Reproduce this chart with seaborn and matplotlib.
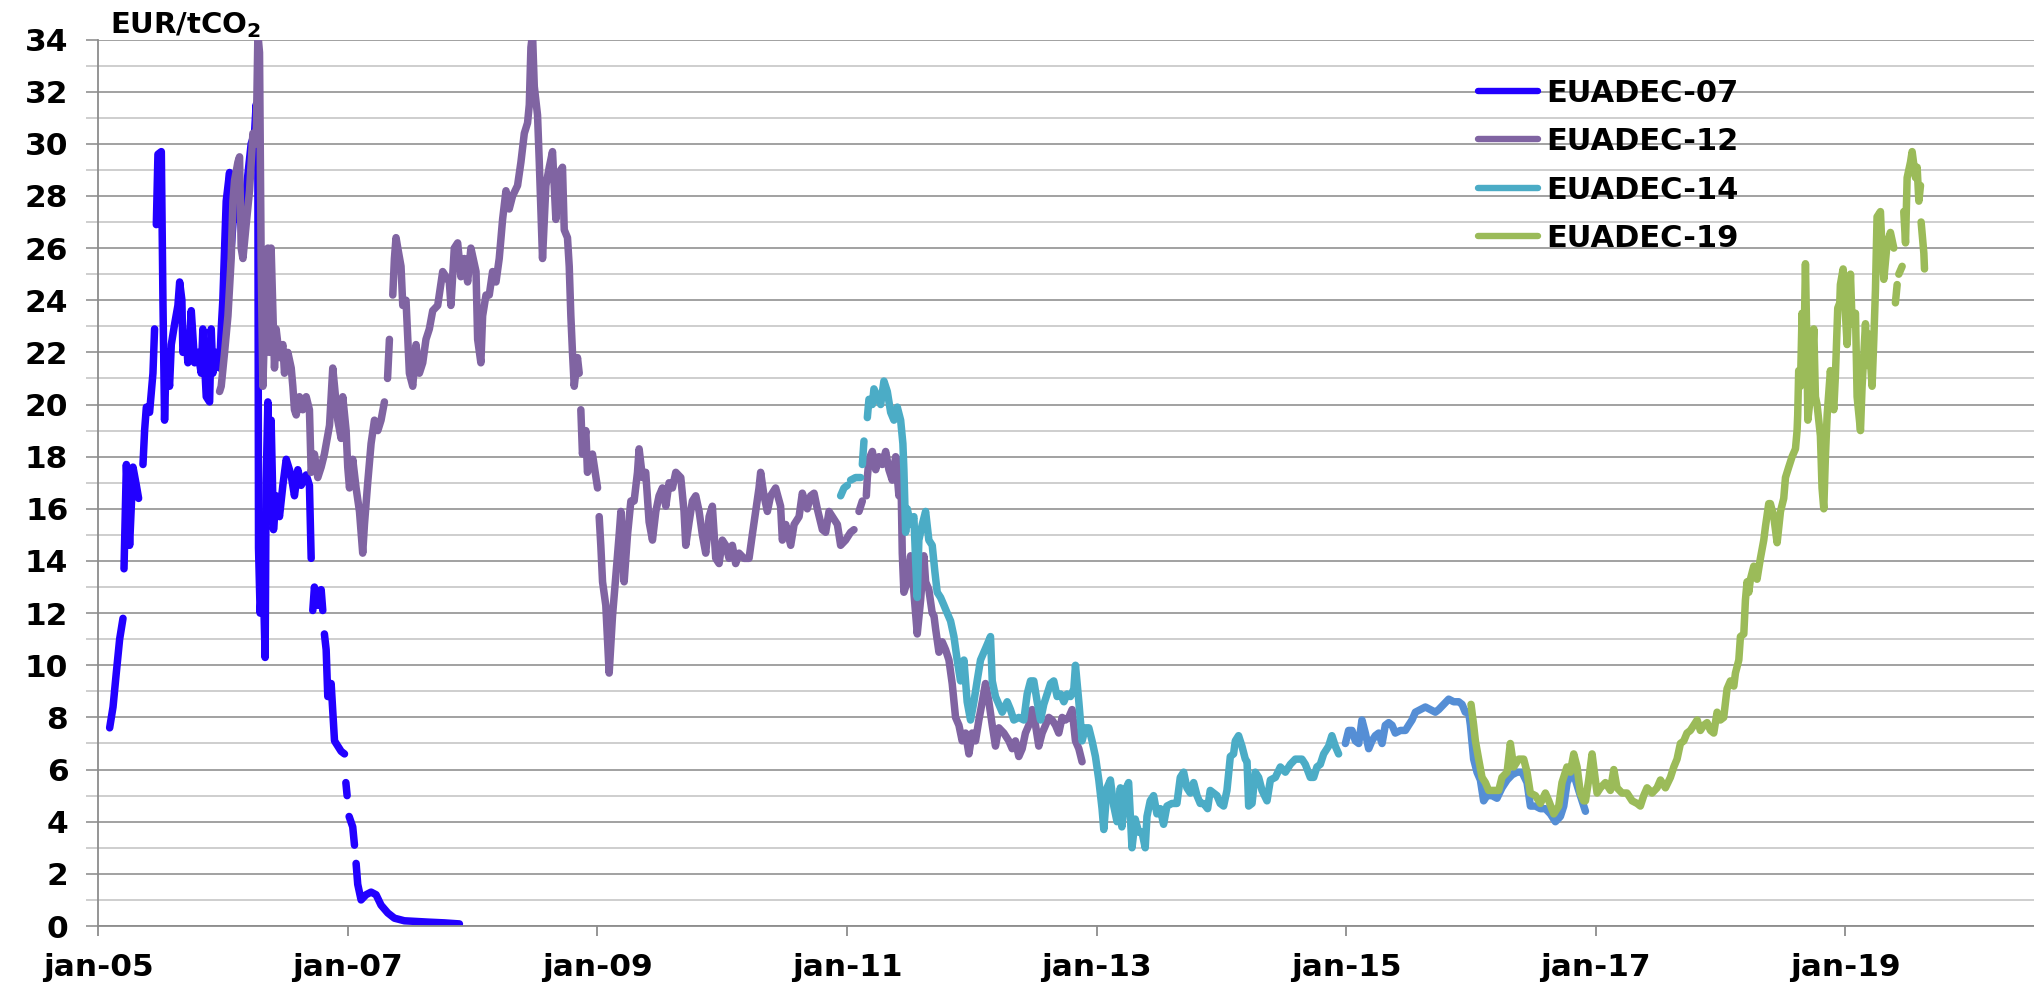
import numpy as np
import pandas as pd
import matplotlib
matplotlib.use("Agg")
import matplotlib.pyplot as plt
import seaborn as sns
from matplotlib.lines import Line2D
from matplotlib.ticker import MultipleLocator

# ---------------- data (decimal year, EUR/tCO2); None = gap in the series ----------------
dec07 = [(2005.091, 7.6), (2005.118, 8.4), (2005.144, 9.7), (2005.171, 11.0), (2005.198, 11.8), None,
         (2005.206, 13.7), (2005.225, 17.7), (2005.251, 14.6), (2005.278, 17.6), (2005.305, 16.9), (2005.323, 16.4), None,
         (2005.358, 17.7), (2005.371, 19.0), (2005.385, 19.9), (2005.411, 19.7), (2005.438, 21.2), (2005.451, 22.9), None,
         (2005.465, 26.9), (2005.478, 29.6), (2005.505, 29.7), (2005.518, 24.0), (2005.531, 19.4), (2005.545, 22.0),
         (2005.571, 20.7), (2005.585, 22.3), (2005.612, 23.1), (2005.638, 23.8), (2005.652, 24.7), (2005.670, 24.0),
         (2005.678, 22.0), (2005.705, 22.5), (2005.718, 21.6), (2005.745, 23.6), (2005.772, 21.6), (2005.798, 22.0),
         (2005.825, 21.2), (2005.838, 22.9), (2005.865, 20.3), (2005.892, 20.1), (2005.905, 22.9), (2005.918, 21.2),
         (2005.945, 22.0), (2005.972, 21.4), (2005.985, 22.9), (2005.998, 24.0), (2006.025, 27.8), (2006.052, 28.9),
         (2006.065, 26.0), (2006.092, 27.8), (2006.119, 27.1), (2006.159, 27.3), (2006.185, 28.2), (2006.225, 30.0),
         (2006.252, 30.4), (2006.265, 31.5), (2006.279, 28.9), (2006.284, 14.5), (2006.297, 12.0), (2006.319, 13.8),
         (2006.337, 10.3), (2006.345, 17.0), (2006.359, 20.1), (2006.372, 17.0), (2006.385, 19.4), (2006.404, 15.2),
         (2006.425, 16.5), (2006.452, 15.7), (2006.479, 16.9), (2006.506, 17.9), (2006.545, 17.3), (2006.572, 16.5),
         (2006.599, 17.5), (2006.626, 16.9), (2006.666, 17.3), (2006.692, 16.9), (2006.706, 14.1), None,
         (2006.719, 12.1), (2006.732, 13.0), (2006.759, 12.3), (2006.786, 12.9), (2006.799, 12.1), None,
         (2006.812, 11.2), (2006.826, 10.6), (2006.839, 8.8), (2006.866, 9.3), (2006.893, 7.1), (2006.946, 6.7),
         (2006.973, 6.6), None, (2006.984, 5.5), (2006.994, 5.0), None,
         (2007.010, 4.2), (2007.039, 3.8), (2007.053, 3.1), None,
         (2007.066, 2.4), (2007.079, 1.6), (2007.106, 1.0), (2007.146, 1.2), (2007.186, 1.3), (2007.226, 1.2),
         (2007.266, 0.8), (2007.320, 0.5), (2007.373, 0.3), (2007.453, 0.2), (2007.640, 0.15), (2007.773, 0.12),
         (2007.894, 0.08)]

dec12 = [(2005.972, 20.5), (2005.985, 20.7), (2006.012, 22.0), (2006.039, 23.4), (2006.065, 25.6), (2006.079, 27.8),
         (2006.092, 28.6), (2006.119, 29.3), (2006.132, 29.5), (2006.145, 26.0), (2006.159, 25.6), (2006.185, 26.9),
         (2006.212, 28.2), (2006.239, 30.4), (2006.265, 30.0), (2006.279, 34.2), (2006.292, 33.5), (2006.305, 25.6),
         (2006.319, 20.7), (2006.332, 22.9), (2006.345, 24.2), (2006.359, 26.0), (2006.372, 22.0), (2006.385, 26.0),
         (2006.412, 21.4), (2006.425, 22.9), (2006.452, 21.8), (2006.479, 22.3), (2006.492, 21.2), (2006.519, 22.0),
         (2006.546, 21.4), (2006.559, 20.7), (2006.572, 19.8), (2006.586, 19.6), (2006.612, 20.3), (2006.639, 19.8),
         (2006.666, 20.3), (2006.692, 19.8), (2006.706, 17.4), (2006.732, 18.1), (2006.759, 17.2), (2006.786, 17.6),
         (2006.812, 18.1), (2006.853, 19.2), (2006.879, 21.4), (2006.893, 20.7), (2006.919, 19.4), (2006.946, 18.7),
         (2006.959, 20.3), (2006.986, 19.0), (2006.999, 17.6), (2007.013, 16.8), (2007.039, 17.9), (2007.066, 16.8),
         (2007.093, 15.9), (2007.119, 14.3), (2007.133, 15.4), (2007.159, 17.0), (2007.186, 18.5), (2007.213, 19.4),
         (2007.240, 19.0), (2007.266, 19.4), (2007.293, 20.1), None, (2007.318, 21.0), (2007.333, 22.5), None,
         (2007.360, 24.2), (2007.373, 25.6), (2007.386, 26.4), (2007.400, 26.0), (2007.426, 25.3), (2007.440, 23.8),
         (2007.466, 24.0), (2007.493, 21.2), (2007.520, 20.7), (2007.546, 22.3), (2007.573, 21.2), (2007.600, 21.6),
         (2007.626, 22.5), (2007.653, 22.9), (2007.680, 23.6), (2007.720, 23.8), (2007.760, 25.1), (2007.813, 24.7),
         (2007.826, 23.8), (2007.853, 26.0), (2007.880, 26.2), (2007.906, 24.9), (2007.933, 25.6), (2007.960, 24.7),
         (2007.986, 26.0), (2008.027, 25.1), (2008.040, 22.5), (2008.066, 21.6), (2008.080, 23.4), (2008.107, 24.2),
         (2008.133, 24.2), (2008.160, 25.1), (2008.187, 24.7), (2008.213, 25.6), (2008.240, 27.1), (2008.267, 28.2),
         (2008.293, 27.5), (2008.320, 28.0), (2008.360, 28.4), (2008.387, 29.3), (2008.414, 30.4), (2008.440, 30.8),
         (2008.454, 31.5), (2008.467, 33.7), (2008.480, 34.2), (2008.494, 32.2), (2008.520, 31.1), (2008.534, 29.3),
         (2008.560, 25.6), (2008.587, 28.4), (2008.614, 29.1), (2008.640, 29.7), (2008.667, 27.1), (2008.694, 28.9),
         (2008.720, 29.1), (2008.734, 26.7), (2008.760, 26.4), (2008.774, 25.3), (2008.787, 23.4), (2008.800, 22.0),
         (2008.814, 20.7), (2008.840, 21.8), (2008.854, 21.2), None, (2008.867, 19.8), (2008.880, 18.1),
         (2008.907, 19.0), (2008.920, 17.4), (2008.960, 18.1), (2009.001, 16.8), None, (2009.014, 15.7),
         (2009.027, 14.6), (2009.041, 13.2), (2009.067, 12.3), (2009.094, 9.7), (2009.121, 11.9), (2009.147, 13.4),
         (2009.174, 15.0), (2009.188, 15.9), (2009.214, 13.2), (2009.241, 15.0), (2009.268, 16.3), (2009.294, 16.3),
         (2009.321, 17.4), (2009.334, 18.3), (2009.361, 17.2), (2009.387, 17.4), (2009.414, 15.5), (2009.441, 14.8),
         (2009.468, 15.9), (2009.494, 16.5), (2009.521, 16.8), (2009.548, 16.1), (2009.574, 17.0), (2009.601, 16.8),
         (2009.628, 17.4), (2009.668, 17.2), (2009.694, 15.9), (2009.708, 14.6), (2009.735, 15.5), (2009.761, 16.3),
         (2009.788, 16.5), (2009.815, 15.9), (2009.841, 15.0), (2009.868, 14.3), (2009.895, 15.7), (2009.921, 16.1),
         (2009.948, 14.1), (2009.975, 13.9), (2010.001, 14.8), (2010.028, 14.6), (2010.055, 14.1), (2010.081, 14.6),
         (2010.108, 13.9), (2010.135, 14.3), (2010.175, 14.1), (2010.215, 14.1), (2010.241, 15.0), (2010.268, 15.9),
         (2010.295, 16.8), (2010.308, 17.4), (2010.335, 16.5), (2010.362, 15.9), (2010.388, 16.5), (2010.428, 16.8),
         (2010.468, 16.1), (2010.482, 14.8), (2010.509, 15.4), (2010.549, 14.6), (2010.576, 15.4), (2010.616, 15.7),
         (2010.642, 16.6), (2010.682, 16.0), (2010.709, 16.5), (2010.736, 16.6), (2010.762, 16.0), (2010.803, 15.2),
         (2010.829, 15.1), (2010.856, 15.9), (2010.883, 15.7), (2010.923, 15.4), (2010.949, 14.6), (2010.989, 14.8),
         (2011.029, 15.1), (2011.056, 15.2), None, (2011.096, 15.9), (2011.123, 16.3), None, (2011.155, 16.5),
         (2011.163, 17.2), (2011.176, 17.9), (2011.203, 18.2), (2011.230, 17.5), (2011.256, 18.0), (2011.283, 17.7),
         (2011.310, 18.2), (2011.336, 17.5), (2011.363, 17.1), (2011.390, 18.0), (2011.416, 16.5), (2011.430, 17.9),
         (2011.443, 14.3), (2011.456, 12.8), (2011.483, 13.2), (2011.510, 14.2), (2011.536, 12.8), (2011.563, 11.2),
         (2011.590, 12.5), (2011.616, 14.2), (2011.630, 13.2), (2011.656, 12.9), (2011.683, 12.0), (2011.697, 11.9),
         (2011.710, 11.4), (2011.737, 10.5), (2011.763, 10.9), (2011.790, 10.6), (2011.817, 10.2), (2011.843, 9.3),
         (2011.870, 8.0), (2011.897, 7.7), (2011.923, 7.1), (2011.950, 7.4), (2011.977, 6.6), (2012.003, 7.4),
         (2012.030, 7.1), (2012.057, 7.9), (2012.084, 8.6), (2012.110, 9.3), (2012.137, 8.6), (2012.164, 7.7),
         (2012.190, 6.9), (2012.217, 7.6), (2012.257, 7.4), (2012.297, 7.1), (2012.324, 6.8), (2012.350, 7.1),
         (2012.377, 6.5), (2012.404, 6.8), (2012.430, 7.4), (2012.457, 7.7), (2012.484, 8.3), (2012.511, 7.7),
         (2012.537, 6.9), (2012.564, 7.4), (2012.591, 7.7), (2012.617, 8.0), (2012.644, 7.9), (2012.671, 7.7),
         (2012.697, 7.4), (2012.724, 8.0), (2012.751, 7.9), (2012.777, 8.0), (2012.804, 8.3), (2012.831, 7.1),
         (2012.858, 6.8), (2012.884, 6.3)]

dec14 = [(2010.949, 16.5), (2010.976, 16.8), (2011.003, 16.9), None, (2011.029, 17.1), (2011.069, 17.2),
         (2011.109, 17.2), None, (2011.123, 17.7), (2011.136, 18.6), None, (2011.163, 19.5), (2011.176, 20.2),
         (2011.203, 20.0), (2011.216, 20.6), (2011.243, 20.3), (2011.270, 20.0), (2011.296, 20.9), (2011.323, 20.5),
         (2011.350, 19.7), (2011.376, 19.4), (2011.403, 19.9), (2011.430, 19.4), (2011.448, 18.5), (2011.456, 17.5),
         (2011.470, 15.1), (2011.483, 16.0), (2011.510, 15.4), (2011.536, 15.7), (2011.550, 14.0), (2011.563, 12.6),
         (2011.576, 14.8), (2011.603, 15.4), (2011.630, 15.9), (2011.656, 14.8), (2011.683, 14.6), (2011.704, 13.6),
         (2011.723, 12.8), (2011.750, 12.6), (2011.777, 12.3), (2011.803, 12.0), (2011.830, 11.7), (2011.857, 11.1),
         (2011.883, 10.2), (2011.910, 9.4), (2011.937, 10.2), (2011.963, 8.6), (2011.990, 7.9), (2012.017, 8.6),
         (2012.043, 9.4), (2012.070, 10.2), (2012.097, 10.5), (2012.124, 10.8), (2012.150, 11.1), (2012.164, 9.4),
         (2012.190, 8.8), (2012.217, 8.5), (2012.244, 8.2), (2012.284, 8.6), (2012.310, 8.3), (2012.337, 7.9),
         (2012.377, 8.0), (2012.417, 7.9), (2012.444, 8.9), (2012.471, 9.4), (2012.497, 9.4), (2012.524, 8.6),
         (2012.551, 7.9), (2012.577, 8.5), (2012.604, 8.9), (2012.631, 9.3), (2012.657, 9.4), (2012.684, 8.8),
         (2012.711, 8.9), (2012.738, 8.6), (2012.764, 8.9), (2012.791, 8.8), (2012.818, 9.1), (2012.831, 10.0),
         (2012.858, 8.6), (2012.884, 7.1), (2012.911, 7.6), (2012.938, 7.6), (2012.964, 7.1), (2012.991, 6.5),
         (2013.018, 5.6), (2013.044, 4.5), (2013.058, 3.7), (2013.084, 5.3), (2013.111, 5.6), (2013.138, 4.6),
         (2013.164, 4.0), (2013.191, 5.3), (2013.203, 3.8), (2013.230, 5.2), (2013.257, 5.5), (2013.284, 3.0),
         (2013.310, 4.1), (2013.337, 3.6), (2013.364, 3.6), (2013.390, 3.0), (2013.404, 4.2), (2013.430, 4.8),
         (2013.457, 5.0), (2013.484, 4.3), (2013.511, 4.5), (2013.537, 3.9), (2013.564, 4.6), (2013.604, 4.7),
         (2013.644, 4.7), (2013.671, 5.7), (2013.698, 5.9), (2013.724, 5.3), (2013.751, 5.1), (2013.778, 5.5),
         (2013.805, 5.0), (2013.831, 4.7), (2013.858, 4.7), (2013.890, 4.5), (2013.911, 5.2), (2013.938, 5.1),
         (2013.965, 5.0), (2013.991, 4.7), (2014.018, 4.6), (2014.045, 5.2), (2014.072, 6.5), (2014.098, 6.6),
         (2014.112, 7.1), (2014.138, 7.3), (2014.165, 6.9), (2014.192, 6.4), (2014.206, 6.3), (2014.219, 4.6),
         (2014.246, 4.7), (2014.272, 5.9), (2014.299, 5.7), (2014.326, 5.2), (2014.366, 4.8), (2014.393, 5.6),
         (2014.433, 5.7), (2014.473, 6.1), (2014.513, 5.9), (2014.553, 6.2), (2014.593, 6.4), (2014.646, 6.4),
         (2014.673, 6.2), (2014.713, 5.7), (2014.740, 5.7), (2014.766, 6.1), (2014.793, 6.2), (2014.820, 6.6),
         (2014.860, 6.9), (2014.886, 7.3), (2014.913, 6.9), (2014.940, 6.6)]

dec16 = [(2014.994, 7.0), (2015.020, 7.5), (2015.047, 7.5), (2015.074, 7.1), (2015.101, 7.0), (2015.127, 7.9),
         (2015.154, 7.4), (2015.181, 6.8), (2015.207, 7.1), (2015.234, 7.3), (2015.261, 7.4), (2015.288, 7.0),
         (2015.314, 7.7), (2015.341, 7.8), (2015.368, 7.7), (2015.394, 7.4), (2015.435, 7.5), (2015.475, 7.5),
         (2015.501, 7.7), (2015.528, 7.9), (2015.555, 8.2), (2015.595, 8.3), (2015.635, 8.4), (2015.675, 8.3),
         (2015.715, 8.2), (2015.742, 8.3), (2015.782, 8.5), (2015.822, 8.7), (2015.862, 8.6), (2015.902, 8.6),
         (2015.929, 8.5), (2015.955, 8.2), (2015.982, 8.2), (2015.996, 7.7), (2016.022, 6.4), (2016.049, 5.9),
         (2016.076, 5.6), (2016.102, 4.8), (2016.129, 5.0), (2016.169, 5.0), (2016.209, 4.9), (2016.249, 5.3),
         (2016.290, 5.6), (2016.330, 5.8), (2016.370, 5.9), (2016.410, 5.9), (2016.450, 5.5), (2016.477, 4.6),
         (2016.517, 4.6), (2016.557, 4.5), (2016.597, 4.5), (2016.637, 4.3), (2016.677, 4.0), (2016.717, 4.2),
         (2016.744, 4.6), (2016.771, 5.5), (2016.811, 5.9), (2016.838, 5.6), (2016.864, 5.2), (2016.891, 4.8),
         (2016.918, 4.4)]

dec19 = [(2016.001, 8.5), (2016.022, 7.7), (2016.036, 7.1), (2016.062, 6.4), (2016.089, 5.7), (2016.116, 5.5),
         (2016.142, 5.2), (2016.183, 5.2), (2016.223, 5.2), (2016.249, 5.7), (2016.290, 5.9), (2016.316, 7.0),
         (2016.343, 6.1), (2016.383, 6.4), (2016.423, 6.4), (2016.450, 5.9), (2016.476, 5.1), (2016.517, 5.0),
         (2016.557, 4.7), (2016.597, 5.1), (2016.624, 4.8), (2016.664, 4.3), (2016.704, 4.6), (2016.730, 5.5),
         (2016.770, 6.1), (2016.797, 5.9), (2016.824, 6.6), (2016.851, 6.1), (2016.877, 5.1), (2016.904, 4.8),
         (2016.918, 4.8), (2016.944, 5.6), (2016.971, 6.6), (2016.984, 6.1), (2017.011, 5.1), (2017.038, 5.3),
         (2017.078, 5.5), (2017.118, 5.2), (2017.145, 6.0), (2017.171, 5.3), (2017.211, 5.1), (2017.251, 5.1),
         (2017.292, 4.8), (2017.332, 4.7), (2017.358, 4.6), (2017.385, 5.0), (2017.412, 5.3), (2017.452, 5.1),
         (2017.492, 5.3), (2017.519, 5.6), (2017.559, 5.3), (2017.599, 5.7), (2017.626, 6.1), (2017.652, 6.4),
         (2017.679, 7.0), (2017.706, 7.1), (2017.732, 7.4), (2017.759, 7.5), (2017.786, 7.7), (2017.813, 7.9),
         (2017.839, 7.5), (2017.866, 7.7), (2017.893, 7.8), (2017.920, 7.5), (2017.946, 7.4), (2017.973, 8.2),
         (2017.999, 7.9), (2018.026, 8.0), (2018.053, 9.1), (2018.080, 9.4), (2018.107, 9.2), (2018.120, 9.7),
         (2018.147, 10.2), (2018.160, 11.1), (2018.187, 11.2), (2018.200, 12.5), (2018.213, 13.2), (2018.227, 12.8),
         (2018.240, 13.3), (2018.267, 13.8), (2018.293, 13.3), (2018.320, 14.1), (2018.347, 14.8), (2018.360, 15.3),
         (2018.387, 16.2), (2018.400, 16.2), (2018.427, 15.7), (2018.454, 14.7), (2018.481, 15.9), (2018.507, 16.4),
         (2018.521, 17.2), (2018.547, 17.6), (2018.574, 18.0), (2018.601, 18.3), (2018.614, 19.0), (2018.619, 19.6),
         (2018.627, 21.3), (2018.641, 20.7), (2018.654, 23.5), (2018.667, 21.5), (2018.681, 25.4), (2018.694, 21.9),
         (2018.700, 19.4), (2018.721, 20.3), (2018.748, 22.9), (2018.761, 20.3), (2018.774, 20.0), (2018.801, 18.8),
         (2018.814, 16.8), (2018.828, 16.0), (2018.841, 18.0), (2018.855, 19.6), (2018.881, 21.3), (2018.908, 19.8),
         (2018.921, 21.1), (2018.940, 23.7), (2018.956, 23.9), (2018.961, 24.6), (2018.983, 25.2), (2019.001, 23.5),
         (2019.015, 22.3), (2019.042, 25.0), (2019.055, 23.1), (2019.082, 23.5), (2019.095, 20.3), (2019.122, 19.0),
         (2019.135, 20.7), (2019.162, 23.1), (2019.175, 21.5), (2019.189, 22.7), (2019.215, 20.7), (2019.229, 22.5),
         (2019.242, 24.4), (2019.255, 27.2), (2019.282, 27.4), (2019.296, 25.8), (2019.309, 24.8), (2019.336, 26.2),
         (2019.362, 26.6), (2019.389, 26.0), None, (2019.402, 23.9), (2019.416, 24.6), None, (2019.429, 25.0),
         (2019.456, 25.3), None, (2019.469, 27.4), (2019.483, 26.2), (2019.496, 28.7), (2019.523, 29.3),
         (2019.536, 29.7), (2019.563, 28.7), (2019.576, 29.1), (2019.590, 27.8), (2019.603, 28.4), None,
         (2019.608, 27.0), (2019.630, 25.8), (2019.635, 25.2)]

series_names = ["EUADEC-07", "EUADEC-12", "EUADEC-14", "EUADEC-16", "EUADEC-19"]
series_data = [dec07, dec12, dec14, dec16, dec19]
series_colors = ["#2200FF", "#8064A2", "#4BACC6", "#558ED5", "#9BBB59"]
legend_names = ["EUADEC-07", "EUADEC-12", "EUADEC-14", "EUADEC-19"]

tick_dates = ["2005-01-01", "2007-01-01", "2009-01-01", "2011-01-01",
              "2013-01-01", "2015-01-01", "2017-01-01", "2019-01-01"]
tick_labels = ["jan-05", "jan-07", "jan-09", "jan-11", "jan-13", "jan-15", "jan-17", "jan-19"]
y_ticks = list(range(0, 35, 2))


def to_frame(pairs):
    rows, seg = [], 0
    for p in pairs:
        if p is None:
            seg += 1
            continue
        rows.append((p[0], p[1], seg))
    df = pd.DataFrame(rows, columns=["year", "price", "seg"])
    df["date"] = pd.Timestamp("2005-01-01") + pd.to_timedelta((df["year"] - 2005) * 365.25, unit="D")
    return df


sns.set_theme(style="white")
plt.rcParams["font.family"] = ["DejaVu Sans"]
plt.rcParams["text.color"] = "black"

W, H = 2034, 984
fig = plt.figure(figsize=(W / 100, H / 100), dpi=100)
ax = fig.add_axes([98.3 / W, 1 - 926 / H, 1 - 98.3 / W, (926 - 39.5) / H])

major_c = "#8C8C8C"
minor_c = "#C4C4C4"
LW = 5.4

for name, pairs, col in zip(series_names, series_data, series_colors):
    df = to_frame(pairs)
    sns.lineplot(data=df, x="date", y="price", units="seg", estimator=None, sort=False,
                 color=col, linewidth=LW, solid_capstyle="round", solid_joinstyle="round",
                 legend=False, ax=ax)

ax.set_xlim(pd.Timestamp("2005-01-01"), pd.Timestamp("2020-07-07"))
ax.set_ylim(0, 34)
ax.set_xticks(pd.to_datetime(tick_dates))
ax.set_xticklabels(tick_labels)
ax.set_yticks(y_ticks)
ax.set_yticklabels([str(v) for v in y_ticks])
ax.yaxis.set_minor_locator(MultipleLocator(1))
ax.set_xlabel("")
ax.set_ylabel("")

ax.yaxis.grid(True, which="major", color=major_c, linewidth=1.15)
ax.yaxis.grid(True, which="minor", color=minor_c, linewidth=1.15)
ax.xaxis.grid(False)
ax.set_axisbelow(True)

for s in ["top", "right"]:
    ax.spines[s].set_visible(False)
for s in ["left", "bottom"]:
    ax.spines[s].set_color(major_c)
    ax.spines[s].set_linewidth(1.3)

ax.tick_params(axis="y", which="both", direction="out", length=8.6, width=1.15,
               color=major_c, left=True, pad=13)
ax.tick_params(axis="y", which="minor", color=minor_c)
ax.tick_params(axis="x", which="major", direction="out", length=7.2, width=1.3,
               color=major_c, bottom=True, pad=12)
for lab in ax.get_xticklabels() + ax.get_yticklabels():
    lab.set_fontsize(22.5)
    lab.set_fontweight("bold")
    lab.set_color("black")

handles = [Line2D([0], [0], color=series_colors[series_names.index(n)], lw=4.6,
                  solid_capstyle="round") for n in legend_names]
leg = ax.legend(handles, legend_names, loc="upper left", bbox_to_anchor=(0.713, 0.956),
                frameon=False, borderpad=0, borderaxespad=0, handlelength=1.96,
                handletextpad=0.26, labelspacing=0.64,
                prop={"weight": "bold", "size": 22})
for t in leg.get_texts():
    t.set_color("black")

fig.text(110 / W, 1 - 33 / H, r"EUR/tCO$_\mathbf{2}$", fontsize=21, fontweight="bold",
         ha="left", va="baseline", color="black")

fig.savefig("out.png", dpi=100, facecolor="white")
